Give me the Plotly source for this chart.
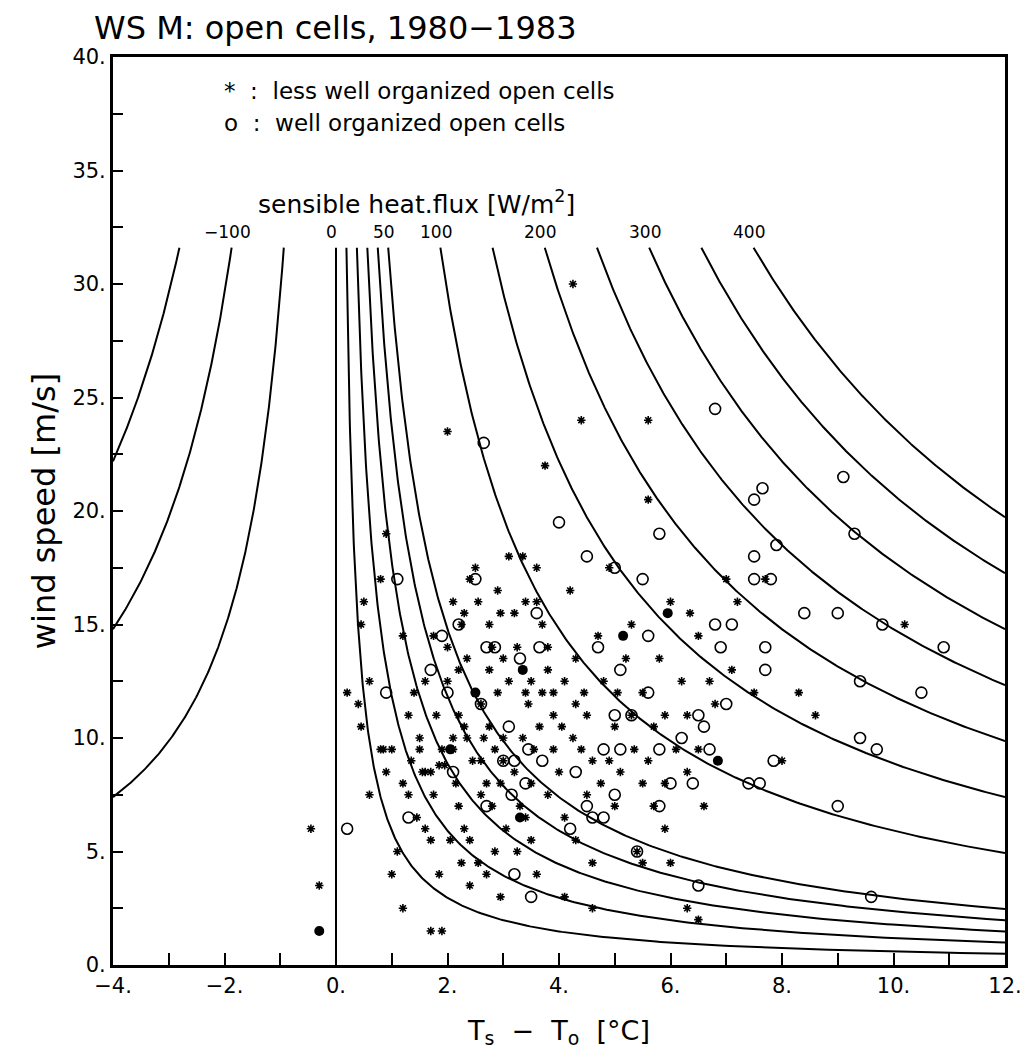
import numpy as np
import plotly.graph_objects as go

# ---------------- data ----------------
title_text = "WS M: open cells, 1980\u22121983"

# sensible heat flux isolines [W/m2]
flux_levels = [-150, -100, -50, 0, 10, 20, 30, 40, 50, 100, 150, 200, 250, 300, 350, 400]
flux_labelled = [-100, 0, 50, 100, 200, 300, 400]
# bulk transfer: H = rho*cp*C_H * U * dT  ->  U*dT = H / rho_cp_ch
rho_cp_ch = 1.69
u_top = 31.6

# less well organized open cells (*)
less_x = [-0.45, -0.3, 0.2, 0.5, 0.45, 0.4, 0.45, 0.6, 0.6, 0.8, 0.85, 0.9, 1.0, 1.1, 1.2, 1.2, 1.3, 1.35,
          1.4, 1.5, 1.55, 1.6, 1.7, 1.9, 1.7, 1.75, 1.8, 1.85, 1.9, 2.0, 2.0, 2.1, 2.15, 2.2, 2.25, 2.3, 2.3,
          2.35, 2.4, 2.4, 2.5, 2.5, 2.55, 2.55, 2.6, 2.6, 2.7, 2.75, 2.8, 2.8, 2.85, 2.9, 2.95, 3.0, 3.0, 3.1,
          3.1, 3.2, 3.2, 3.3, 3.35, 3.4, 3.45, 3.5, 3.5, 3.55, 3.6, 3.6, 3.7, 3.75, 3.8, 3.9, 3.9, 4.0, 4.1,
          4.2, 4.25, 4.3, 4.4, 4.4, 4.5, 4.5, 4.6, 4.6, 4.7, 4.8, 4.9, 5.0, 5.0, 5.1, 5.2, 5.3, 5.4, 5.5, 5.6,
          5.7, 5.8, 5.9, 6.0, 6.0, 6.2, 6.3, 6.5, 6.5, 6.5, 6.6, 6.8, 7.0, 7.1, 7.2, 7.5, 7.7, 8.3, 8.6, 8.0,
          10.2, 5.6, 5.6,
          0.9, 1.2, 1.0, 0.8, 1.5, 1.6, 1.3, 1.45, 1.7, 2.0, 2.1, 2.3, 2.4, 2.2, 2.35, 2.45, 2.65, 2.75, 2.9,
          3.0, 2.95, 3.25, 3.4, 3.35, 3.6, 3.8, 3.7, 3.65, 3.9, 4.05, 4.1, 4.3, 4.25, 4.45, 4.6, 4.75, 4.9,
          5.05, 5.35, 5.5, 5.7, 5.9, 6.1, 6.3, 6.3, 3.05, 3.25, 2.7, 2.25, 2.05, 3.8, 4.3, 4.1, 5.5, 5.9,
          1.6, 1.75, 2.75, 3.4, 2.95, 2.6, 3.5, 2.2, 5.3, 6.35, 6.7, 1.95, 1.85, 2.1, 2.85]
less_y = [6.0, 3.5, 12.0, 16.0, 15.0, 11.5, 10.5, 12.5, 7.5, 17.0, 9.5, 8.5, 4.0, 5.0, 2.5, 8.0, 11.0, 9.0,
          12.0, 10.0, 8.5, 6.0, 1.5, 1.5, 8.5, 7.5, 11.0, 4.0, 9.5, 23.5, 12.5, 9.5, 8.0, 7.0, 15.0, 6.0, 10.5,
          13.5, 5.5, 3.5, 12.0, 17.5, 16.0, 4.5, 9.0, 11.5, 8.0, 13.0, 14.0, 7.0, 5.0, 16.5, 3.0, 10.0, 9.0, 12.5,
          18.0, 15.5, 8.5, 7.0, 10.0, 6.5, 11.5, 12.5, 5.5, 9.5, 4.0, 17.5, 15.0, 22.0, 13.0, 12.0, 11.0, 8.5, 6.5,
          16.5, 30.0, 13.5, 9.5, 24.0, 11.0, 7.5, 4.5, 2.5, 14.5, 12.5, 17.5, 10.5, 7.0, 8.5, 13.5, 11.0, 5.0, 12.0, 9.0,
          7.0, 13.5, 11.0, 16.0, 4.5, 12.5, 2.5, 14.5, 2.0, 9.5, 7.0, 11.5, 17.0, 13.0, 16.0, 12.0, 17.0, 12.0, 11.0, 9.0,
          15.0, 24.0, 20.5,
          19.0, 14.5, 9.5, 9.5, 9.5, 8.5, 7.5, 6.5, 5.5, 14.0, 16.0, 15.5, 17.0, 11.0, 10.0, 9.0, 10.0, 10.5, 12.0,
          13.5, 15.5, 14.0, 16.0, 18.0, 16.0, 14.0, 12.0, 10.5, 9.5, 10.5, 12.5, 11.5, 10.0, 12.0, 9.0, 8.0, 9.0,
          12.0, 9.5, 8.0, 10.5, 8.0, 9.5, 11.0, 8.5, 6.0, 5.0, 4.0, 4.5, 5.5, 7.5, 5.5, 3.0, 4.5, 6.0,
          12.5, 14.5, 15.0, 12.0, 8.0, 7.5, 8.0, 13.0, 15.0, 15.5, 12.5, 8.8, 8.8, 10.0, 9.5]

# well organized open cells (o)
well_x = [0.2, 0.9, 1.1, 1.3, 1.7, 1.9, 2.0, 2.1, 2.2, 2.5, 2.65, 2.6, 2.7, 2.85, 2.7, 3.0, 3.1, 3.15, 3.2, 3.2,
          3.3, 3.4, 3.45, 3.5, 3.6, 3.7, 3.65, 4.0, 4.2, 4.3, 4.5, 4.5, 4.6, 4.7, 4.8, 4.8, 5.0, 5.0, 5.0, 5.1,
          5.1, 5.3, 5.4, 5.5, 5.6, 5.6, 5.8, 5.8, 5.8, 6.0, 6.2, 6.4, 6.5, 6.5, 6.6, 6.7, 6.8, 6.8, 6.9, 7.0,
          7.1, 7.5, 7.5, 7.5, 7.6, 7.7, 7.7, 7.65, 7.8, 7.85, 7.9, 8.4, 9.0, 9.1, 9.0, 9.3, 9.4, 9.4, 9.7, 9.8,
          9.6, 10.5, 10.9, 7.4]
well_y = [6.0, 12.0, 17.0, 6.5, 13.0, 14.5, 12.0, 8.5, 15.0, 17.0, 23.0, 11.5, 14.0, 14.0, 7.0, 9.0, 10.5, 7.5, 9.0, 4.0,
          13.5, 8.0, 9.5, 3.0, 15.5, 9.0, 14.0, 19.5, 6.0, 8.5, 18.0, 7.0, 6.5, 14.0, 9.5, 6.5, 7.5, 11.0, 17.5, 13.0,
          9.5, 11.0, 5.0, 17.0, 14.5, 12.0, 9.5, 7.0, 19.0, 8.0, 10.0, 8.0, 3.5, 11.0, 10.5, 9.5, 24.5, 15.0, 14.0, 11.5,
          15.0, 20.5, 18.0, 17.0, 8.0, 14.0, 13.0, 21.0, 17.0, 9.0, 18.5, 15.5, 15.5, 21.5, 7.0, 19.0, 12.5, 10.0, 9.5, 15.0,
          3.0, 12.0, 14.0, 8.0]

# overlapping (* and o) drawn as filled dots
both_x = [-0.3, 2.05, 2.5, 3.35, 3.3, 5.15, 5.95, 6.85]
both_y = [1.5, 9.5, 12.0, 13.0, 6.5, 14.5, 15.5, 9.0]

x_tick_vals = [-4, -2, 0, 2, 4, 6, 8, 10, 12]
x_tick_text = ["\u22124.", "\u22122.", "0.", "2.", "4.", "6.", "8.", "10.", "12."]
y_tick_vals = [0, 5, 10, 15, 20, 25, 30, 35, 40]
y_tick_text = ["0.", "5.", "10.", "15.", "20.", "25.", "30.", "35.", "40."]

# ---------------- figure ----------------
FONT = "DejaVu Sans"
fig = go.Figure()

xmin, xmax = -4.0, 12.0
for h in flux_levels:
    k = h / rho_cp_ch
    if h == 0:
        xs = [0, 0]
        ys = [0, u_top]
    elif h > 0:
        x0 = k / u_top
        xs = np.geomspace(x0, xmax, 300)
        ys = k / xs
    else:
        x1 = k / u_top
        xs = -np.geomspace(-xmin, -x1, 300)
        ys = k / xs
    fig.add_trace(go.Scatter(x=xs, y=ys, mode="lines", line=dict(color="black", width=2),
                             hoverinfo="skip", showlegend=False))

fig.add_trace(go.Scatter(x=less_x, y=less_y, mode="markers",
                         marker=dict(symbol="asterisk-open", size=7, color="black",
                                     line=dict(color="black", width=1.6)),
                         showlegend=False))
fig.add_trace(go.Scatter(x=well_x, y=well_y, mode="markers",
                         marker=dict(symbol="circle-open", size=11, color="black",
                                     line=dict(color="black", width=1.6)),
                         showlegend=False))
fig.add_trace(go.Scatter(x=both_x, y=both_y, mode="markers",
                         marker=dict(symbol="circle", size=10, color="black"),
                         showlegend=False))

annotations = []
for h in flux_labelled:
    xt = (h / rho_cp_ch) / u_top
    annotations.append(dict(x=xt - 0.08, y=32.3, xref="x", yref="y",
                            text=("\u2212" + str(-h)) if h < 0 else str(h),
                            showarrow=False, xanchor="center", yanchor="middle",
                            font=dict(family=FONT, size=17, color="black")))
annotations.append(dict(x=1.45, y=33.6, xref="x", yref="y",
                        text="sensible heat.flux [W/m<sup>2</sup>]", showarrow=False,
                        xanchor="center", yanchor="middle",
                        font=dict(family=FONT, size=25, color="black")))
annotations.append(dict(x=-2.05, y=38.5, xref="x", yref="y",
                        text="*  :  less well organized open cells", showarrow=False,
                        xanchor="left", yanchor="middle",
                        font=dict(family=FONT, size=23, color="black")))
annotations.append(dict(x=-2.05, y=37.1, xref="x", yref="y",
                        text="o  :  well organized open cells", showarrow=False,
                        xanchor="left", yanchor="middle",
                        font=dict(family=FONT, size=23, color="black")))
annotations.append(dict(x=-0.024, y=1.032, xref="paper", yref="paper", text=title_text,
                        showarrow=False, xanchor="left", yanchor="middle",
                        font=dict(family=FONT, size=32, color="black")))

fig.update_layout(
    width=1034, height=1057,
    margin=dict(l=113, r=16, t=57, b=92),
    paper_bgcolor="white", plot_bgcolor="white",
    font=dict(family=FONT, color="black"),
    annotations=annotations,
    xaxis=dict(range=[xmin, xmax], showgrid=False, zeroline=False,
               showline=True, linewidth=3, linecolor="black", mirror=True,
               ticks="inside", ticklen=12, tickwidth=2, tickcolor="black",
               tickvals=x_tick_vals, ticktext=x_tick_text, ticklabeloverflow="allow",
               minor=dict(dtick=1, tick0=0, ticks="inside", ticklen=12, tickwidth=2,
                          tickcolor="black", showgrid=False),
               tickfont=dict(family=FONT, size=21, color="black"),
               title=dict(text="T<sub>s</sub>  \u2212  T<sub>o</sub>  [\u00b0C]",
                          font=dict(family=FONT, size=27, color="black"), standoff=24)),
    yaxis=dict(range=[0, 40], showgrid=False, zeroline=False,
               showline=True, linewidth=3, linecolor="black", mirror=True,
               ticks="inside", ticklen=10, tickwidth=2, tickcolor="black",
               tickvals=y_tick_vals, ticktext=y_tick_text,
               minor=dict(dtick=2.5, tick0=0, ticks="inside", ticklen=10, tickwidth=2,
                          tickcolor="black", showgrid=False),
               tickfont=dict(family=FONT, size=21, color="black"),
               title=dict(text="wind speed [m/s]",
                          font=dict(family=FONT, size=32, color="black"), standoff=8)),
)

fig.write_html("out.html")
